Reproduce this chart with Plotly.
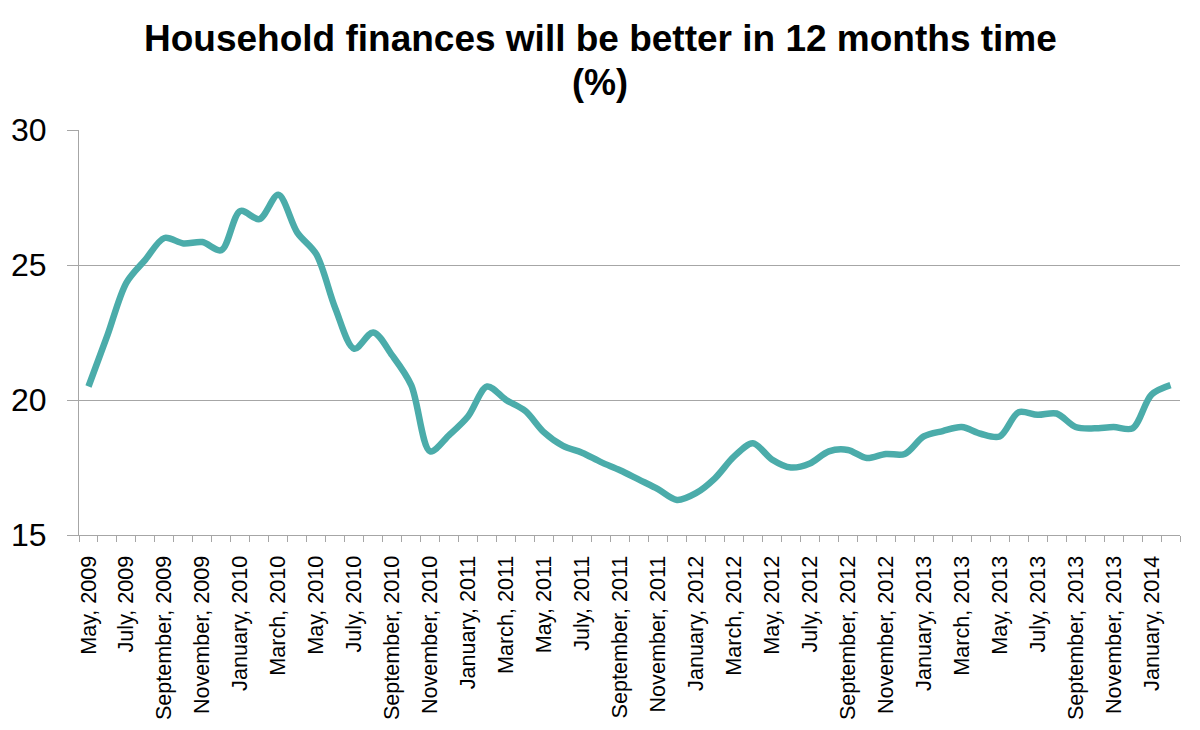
import plotly.graph_objects as go

months = ["January", "February", "March", "April", "May", "June", "July",
          "August", "September", "October", "November", "December"]

# Monthly series, May 2009 .. February 2014
start_month = 4  # May (0-based)
start_year = 2009
values = [20.5, 22.4, 24.35, 25.2, 26.0, 25.8, 25.85, 25.55, 27.0, 26.7,
          27.6, 26.2, 25.4, 23.4, 21.9, 22.5, 21.65, 20.55, 18.1, 18.7,
          19.4, 20.5, 20.0, 19.6, 18.8, 18.3, 18.05, 17.7, 17.4, 17.05,
          16.7, 16.3, 16.55, 17.1, 17.9, 18.4, 17.8, 17.5, 17.65, 18.1,
          18.15, 17.85, 18.0, 18.0, 18.65, 18.85, 19.0, 18.75, 18.65, 19.55,
          19.45, 19.5, 19.0, 18.95, 19.0, 18.95, 20.2, 20.55]

labels = []
for i in range(len(values)):
    m = (start_month + i) % 12
    y = start_year + (start_month + i) // 12
    labels.append(f"{months[m]}, {y}")

x_idx = list(range(len(values)))
tick_idx = x_idx[::2]
tick_text = [labels[i] for i in tick_idx]
boundaries = [i - 0.5 for i in range(len(values) + 1)]

y_ticks = [15, 20, 25, 30]

title_line1 = "Household finances will be better in 12 months time"
title_line2 = "(%)"

GRAY = "#A6A6A6"
FONT = "Liberation Sans, Arial, sans-serif"

# page body adds an 8px offset; margins compensate for it
ML, MR, MT, MB = 71, 28, 122, 203
W, H = 1200, 730
plot_w = W - ML - MR
plot_h = H - MT - MB
cx = (592 - ML) / plot_w  # horizontal centre of the title

fig = go.Figure()
fig.add_trace(go.Scatter(
    x=x_idx, y=values, mode="lines",
    line=dict(color="#4BACAA", width=6.5, shape="spline", smoothing=0.9),
    hoverinfo="skip", showlegend=False,
))

fig.update_layout(
    width=W, height=H,
    margin=dict(l=ML, r=MR, t=MT, b=MB, autoexpand=False),
    paper_bgcolor="white", plot_bgcolor="white",
    font=dict(family=FONT, color="#000000"),
    showlegend=False,
    annotations=[
        dict(text=f"<b>{title_line1}</b>", x=cx, xref="paper",
             y=(527 - 31) / plot_h, yref="paper", xanchor="center", yanchor="middle",
             showarrow=False, font=dict(family=FONT, size=37, color="#000000")),
        dict(text=f"<b>{title_line2}</b>", x=cx, xref="paper",
             y=(527 - 74) / plot_h, yref="paper", xanchor="center", yanchor="middle",
             showarrow=False, font=dict(family=FONT, size=36, color="#000000")),
    ],
)

fig.update_xaxes(
    range=[-0.5, len(values) - 0.5],
    tickmode="array", tickvals=tick_idx, ticktext=tick_text,
    tickangle=-90, tickfont=dict(family=FONT, size=21.6, color="#000000"),
    ticks="", showgrid=False, zeroline=False,
    showline=True, linecolor=GRAY, linewidth=1,
    minor=dict(tickmode="array", tickvals=boundaries, ticks="outside",
               ticklen=6, tickcolor=GRAY, tickwidth=1, showgrid=False),
    ticklabelstandoff=11, automargin=False,
)

fig.update_yaxes(
    range=[15, 30],
    tickmode="array", tickvals=y_ticks,
    tickfont=dict(family=FONT, size=32, color="#000000"),
    ticks="outside", ticklen=11, tickcolor=GRAY, tickwidth=1,
    showgrid=True, gridcolor=GRAY, gridwidth=1, zeroline=False,
    showline=True, linecolor=GRAY, linewidth=1,
    ticklabelstandoff=14, automargin=False,
)

fig.write_html("out.html")
